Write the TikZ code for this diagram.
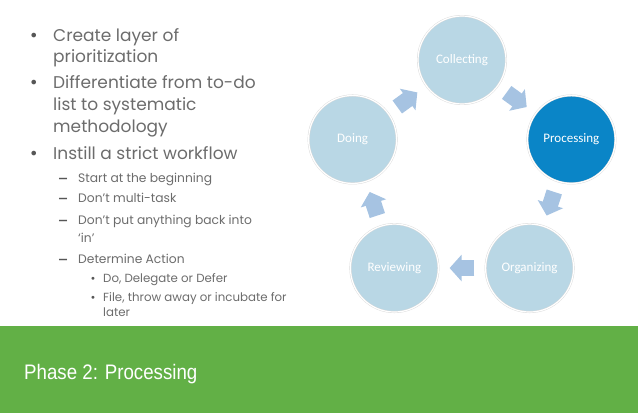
\documentclass[tikz,border=0pt]{standalone}
\usepackage{fontspec}
\setmainfont{Poppins}
\newfontfamily\circlefont{Carlito}
\newfontfamily\markfont{DejaVu Sans}
\newfontfamily\titlefont{Liberation Sans}[FakeStretch=0.89]
\usetikzlibrary{arrows.meta, calc}

\definecolor{txtgray}{HTML}{6C6C6C}
\definecolor{stagefill}{HTML}{B9D7E5}
\definecolor{activefill}{HTML}{0A85C7}
\definecolor{flowarrow}{HTML}{A6C3E2}
\definecolor{bandgreen}{HTML}{62B046}

\begin{document}
\begin{tikzpicture}[
    x=1pt, y=1pt,
    stage/.style={circle, draw=black!15, line width=0.4pt, double=white, double distance=1.2pt,
                  fill=stagefill, minimum size=88pt, inner sep=0pt, text=white,
                  font=\circlefont\fontsize{13}{15}\selectfont},
    active/.style={stage, fill=activefill},
    flow/.style={draw=flowarrow, line width=16pt, -{Triangle[length=12pt, width=26pt]},
                 shorten <=11pt, shorten >=11pt},
    lvlone/.style={anchor=base west, inner sep=0pt, text=txtgray, font=\fontsize{17}{22}\selectfont},
    lvltwo/.style={anchor=base west, inner sep=0pt, text=txtgray, font=\fontsize{12.3}{16}\selectfont},
    lvlthree/.style={anchor=base west, inner sep=0pt, text=txtgray, font=\fontsize{11.8}{13}\selectfont},
    dot/.style={anchor=base west, inner sep=0pt, text=txtgray!80!black, font=\markfont\fontsize{#1}{#1}\selectfont},
    dashmark/.style={anchor=base west, inner sep=0pt, text=txtgray!80!black, font=\markfont\fontsize{20}{20}\selectfont}
  ]

  % --- FRAME ---
  \useasboundingbox (0,0) rectangle (638,413);
  \fill[bandgreen] (0,0) rectangle (638,87);
  \node[anchor=base west, inner sep=0pt, text=white, font=\titlefont\fontsize{21}{24}\selectfont]
    (title) at (24,34) {Phase 2: Processing};

  % --- BULLET LIST ---
  \foreach \y in {371,324,253} \node[dot=16] at (29,\y) {•};
  \node[lvlone] (b1a) at (53,371) {Create layer of};
  \node[lvlone] (b1b) at (53,350) {prioritization};
  \node[lvlone] (b2a) at (53,324) {Differentiate from to-do};
  \node[lvlone] (b2b) at (53,302) {list to systematic};
  \node[lvlone] (b2c) at (53,280) {methodology};
  \node[lvlone] (b3a) at (53,253) {Instill a strict workflow};

  % dashes sit a little low, the DejaVu glyph is set high
  \foreach \y in {228,208,186,147} \node[dashmark] at (58,\y) {–};
  \node[lvltwo] (s1) at (78,230) {Start at the beginning};
  \node[lvltwo] (s2) at (78,210) {Don’t multi-task};
  \node[lvltwo] (s3a) at (78,188) {Don’t put anything back into};
  \node[lvltwo] (s3b) at (78,170) {‘in’};
  \node[lvltwo] (s4) at (78,149) {Determine Action};

  \foreach \y in {130,111} \node[dot=10] at (90,\y) {•};
  \node[lvlthree] (t1) at (103,130) {Do, Delegate or Defer};
  \node[lvlthree] (t2a) at (103,111) {File, throw away or incubate for};
  \node[lvlthree] (t2b) at (103,96) {later};

  % --- CYCLE ---
  \coordinate (hub) at (462,238);
  \node[stage] (col) at ($(hub)+(90:115)$) {Collecting};
  \node[active] (pro) at ($(hub)+(18:115)$) {Processing};
  \node[stage] (org) at ($(hub)+(-54:115)$) {Organizing};
  \node[stage] (rev) at ($(hub)+(-126:115)$) {Reviewing};
  \node[stage] (doi) at ($(hub)+(162:115)$) {Doing};

  % --- ARROWS ---
  \draw[flow] (col) -- (pro);
  \draw[flow] (pro) -- (org);
  \draw[flow] (org) -- (rev);
  \draw[flow] (rev) -- (doi);
  \draw[flow] (doi) -- (col);

\end{tikzpicture}
\end{document}
